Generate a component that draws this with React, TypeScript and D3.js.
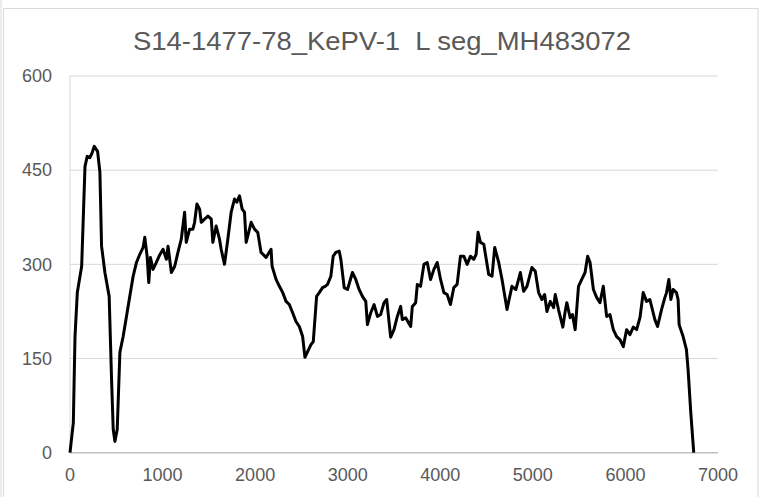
import React from "react";
import * as d3 from "d3";

const TITLE = "S14-1477-78_KePV-1  L seg_MH483072";
const X_TICKS = [0, 1000, 2000, 3000, 4000, 5000, 6000, 7000];
const Y_TICKS = [0, 150, 300, 450, 600];

const positions = [
  0, 36, 54, 79, 126, 162, 186, 215, 240, 262, 298, 323, 341, 377, 423, 449, 467, 485, 510, 539,
  574, 610, 646, 682, 718, 754, 790, 808, 833, 851, 869, 897, 933, 969, 1005, 1041, 1059, 1095, 1131, 1166,
  1202, 1238, 1256, 1292, 1328, 1346, 1371, 1400, 1418, 1454, 1490, 1526, 1543, 1579, 1615, 1633, 1669, 1705, 1741, 1777,
  1802, 1831, 1860, 1885, 1903, 1957, 1993, 2028, 2064, 2118, 2172, 2183, 2226, 2262, 2298, 2334, 2369, 2405, 2441, 2477,
  2513, 2538, 2567, 2603, 2628, 2664, 2693, 2728, 2757, 2782, 2818, 2843, 2872, 2908, 2926, 2962, 2998, 3051, 3087, 3123,
  3159, 3195, 3213, 3249, 3285, 3321, 3356, 3392, 3421, 3464, 3500, 3536, 3572, 3590, 3626, 3680, 3698, 3734, 3752, 3787,
  3823, 3859, 3895, 3931, 3967, 4003, 4039, 4074, 4110, 4146, 4182, 4218, 4254, 4290, 4326, 4362, 4387, 4408, 4434, 4470,
  4523, 4559, 4588, 4631, 4667, 4721, 4739, 4774, 4817, 4865, 4900, 4936, 4990, 5026, 5062, 5098, 5127, 5152, 5188, 5224,
  5242, 5277, 5324, 5349, 5367, 5403, 5428, 5457, 5493, 5528, 5564, 5592, 5618, 5654, 5690, 5725, 5761, 5797, 5833, 5869,
  5905, 5941, 5977, 6013, 6049, 6085, 6121, 6157, 6192, 6228, 6264, 6318, 6347, 6390, 6426, 6444, 6469, 6491, 6515, 6551,
  6569, 6580, 6623, 6659, 6677, 6706, 6738,
];

const coverage = [
  0, 48, 185, 255, 297, 456, 472, 470, 478, 488, 480, 447, 329, 287, 249, 116, 37, 18, 37, 160,
  185, 217, 249, 281, 303, 316, 327, 343, 313, 271, 311, 292, 303, 315, 324, 308, 329, 287, 297, 319,
  340, 383, 335, 356, 356, 367, 396, 388, 367, 372, 377, 372, 335, 361, 340, 324, 300, 340, 383, 404,
  399, 409, 388, 383, 335, 367, 356, 351, 319, 311, 324, 297, 276, 265, 255, 241, 236, 223, 209, 201,
  185, 152, 161, 172, 177, 249, 255, 263, 265, 268, 281, 313, 319, 321, 308, 263, 260, 287, 276, 260,
  249, 241, 204, 223, 236, 217, 220, 239, 244, 184, 196, 217, 233, 212, 215, 201, 233, 239, 268, 265,
  300, 303, 276, 292, 303, 276, 255, 252, 236, 263, 268, 313, 313, 300, 313, 308, 316, 351, 335, 332,
  284, 281, 327, 303, 276, 228, 241, 265, 260, 287, 257, 265, 295, 289, 255, 244, 252, 225, 241, 231,
  252, 228, 200, 225, 239, 215, 220, 196, 265, 276, 287, 313, 303, 260, 247, 239, 265, 217, 220, 196,
  185, 180, 169, 196, 188, 200, 196, 215, 255, 241, 244, 212, 201, 228, 247, 255, 276, 244, 260, 255,
  244, 204, 185, 164, 132, 64, 0,
];

const W = 763;
const H = 497;

export default function App() {
  const x = d3.scaleLinear().domain([0, 7000]).range([70, 718]);
  const y = d3.scaleLinear().domain([0, 600]).range([452.7, 76]);
  const pts = positions.map((p, i) => [p, coverage[i]] as [number, number]);
  const line = d3
    .line<[number, number]>()
    .x((d) => x(d[0]))
    .y((d) => y(d[1]))
    .curve(d3.curveLinear);
  const font = "'Liberation Sans', Arial, sans-serif";
  return (
    <svg
      width={W}
      height={H}
      style={{ position: "absolute", left: 0, top: 0, background: "#fff" }}
    >
      <rect x={0} y={0} width={W} height={H} fill="#fff" />
      <line x1={1} y1={0} x2={1} y2={H} stroke="#d9d9d9" strokeWidth={1} />
      <rect x={3.5} y={8.5} width={754.5} height={H} fill="none" stroke="#d9d9d9" strokeWidth={1} />
      <text
        x={382}
        y={50}
        textAnchor="middle"
        fontFamily={font}
        fontSize={25}
        fill="#595959"
        textLength={498}
        lengthAdjust="spacingAndGlyphs"
        style={{ whiteSpace: "pre" }}
      >
        {TITLE}
      </text>
      {Y_TICKS.filter((t) => t > 0).map((t) => (
        <line key={"g" + t} x1={x(0)} x2={x(7000)} y1={y(t)} y2={y(t)} stroke="#d9d9d9" strokeWidth={1} />
      ))}
      <line x1={x(0)} x2={x(0)} y1={y(600)} y2={y(0)} stroke="#d9d9d9" strokeWidth={1} />
      <line x1={x(0)} x2={x(7000)} y1={y(0)} y2={y(0)} stroke="#bfbfbf" strokeWidth={1.5} />
      {Y_TICKS.map((t) => (
        <text
          key={"y" + t}
          x={52}
          y={y(t)}
          dy="0.35em"
          textAnchor="end"
          fontFamily={font}
          fontSize={18}
          fill="#595959"
        >
          {t}
        </text>
      ))}
      {X_TICKS.map((t) => (
        <text
          key={"x" + t}
          x={x(t)}
          y={481}
          textAnchor="middle"
          fontFamily={font}
          fontSize={18}
          fill="#595959"
        >
          {t}
        </text>
      ))}
      <path d={line(pts) || ""} fill="none" stroke="#000" strokeWidth={3} strokeLinejoin="round" />
    </svg>
  );
}
